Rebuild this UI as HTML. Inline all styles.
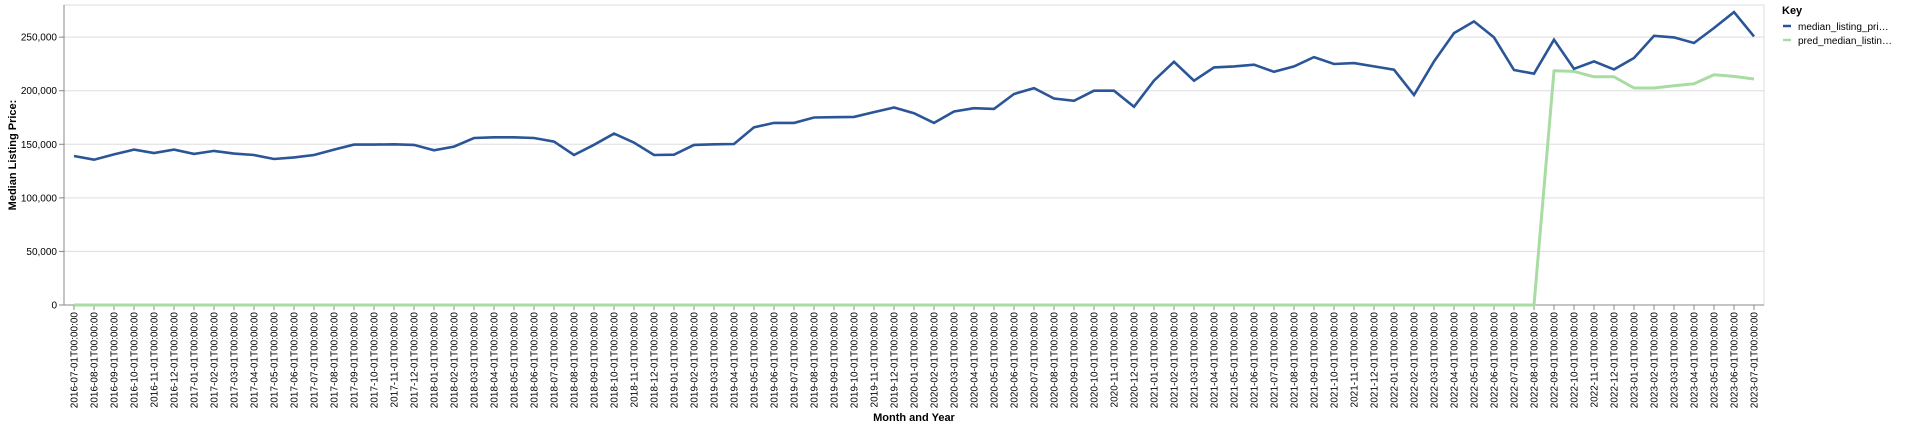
<!DOCTYPE html>
<html><head><meta charset="utf-8">
<style>
html,body{margin:0;padding:0;background:#fff;}
svg{display:block;font-family:"Liberation Sans",Arial,sans-serif;}
</style></head>
<body>
<svg id="chart" width="1920" height="429" viewBox="0 0 1920 429" xmlns="http://www.w3.org/2000/svg">
  <rect x="64" y="5" width="1700" height="300" fill="#fff" stroke="#ddd"/>
  <g id="grid"></g>
  <g id="yaxis"></g>
  <g id="xaxis"></g>
  <g id="series"></g>
  <text transform="translate(16,155) rotate(-90)" text-anchor="middle" font-size="11" font-weight="bold" fill="#000">Median Listing Price:</text>
  <text x="914" y="421" text-anchor="middle" font-size="11" font-weight="bold" fill="#000">Month and Year</text>
  <g>
    <text x="1782" y="14" font-size="11" font-weight="bold" fill="#000">Key</text>
    <g>
      <line x1="1783" y1="26" x2="1791" y2="26" stroke="#2a5597" stroke-width="2.5"/>
      <text x="1798" y="30" font-size="10" fill="#000">median_listing_pri…</text>
    </g>
    <g>
      <line x1="1783" y1="40" x2="1791" y2="40" stroke="#a9dca3" stroke-width="2.5"/>
      <text x="1798" y="44" font-size="10" fill="#000">pred_median_listin…</text>
    </g>
  </g>
</svg>
<script>
const medianValues = [139.1,135.6,140.6,145,141.9,145,141,143.8,141.3,140,136.3,137.8,140,145,149.7,149.7,150,149.4,144.4,147.8,155.9,156.5,156.5,155.9,152.5,140,149.5,160,151.6,140,140.3,149.4,150,150.3,165.9,170,170,175,175.3,175.6,180,184.3,179,170,180.6,183.7,183,196.9,202.4,192.7,190.6,200,200,185,209.4,227,209.3,221.8,222.7,224.3,217.7,222.7,231.4,224.9,225.8,222.7,219.6,196,227.4,253.8,264.7,249.8,219.3,215.9,247.6,220.5,227.4,219.9,230.5,251.3,249.8,244.5,258.5,273.4,250.7];
const predValues = [0,0,0,0,0,0,0,0,0,0,0,0,0,0,0,0,0,0,0,0,0,0,0,0,0,0,0,0,0,0,0,0,0,0,0,0,0,0,0,0,0,0,0,0,0,0,0,0,0,0,0,0,0,0,0,0,0,0,0,0,0,0,0,0,0,0,0,0,0,0,0,0,0,0,218.7,218,213,213,202.5,202.5,204.7,206.5,214.9,213.4,210.9];
const yTicks = [0,50000,100000,150000,200000,250000];
const startYear = 2016, startMonth = 7, monthCount = 85;

const NS = "http://www.w3.org/2000/svg";
const categories = [];
for (let i = 0; i < monthCount; i++) {
  const m = (startMonth - 1 + i);
  const y = startYear + Math.floor(m / 12);
  const mm = String(m % 12 + 1).padStart(2, "0");
  categories.push(y + "-" + mm + "-01T00:00:00");
}
const X0 = 74, XSTEP = 20, Y0 = 305, YMAX = 280000, PH = 300;
function xScale(i){ return X0 + i * XSTEP; }
function yScale(v){ return Y0 - v / YMAX * PH; }
function mk(tag, attrs, parent){
  const el = document.createElementNS(NS, tag);
  for (const k in attrs) el.setAttribute(k, attrs[k]);
  parent.appendChild(el);
  return el;
}
const grid = document.getElementById("grid");
const yaxis = document.getElementById("yaxis");
const xaxis = document.getElementById("xaxis");
const series = document.getElementById("series");

yTicks.forEach(t => {
  const y = yScale(t);
  const g = mk("line", {x1:64, x2:1764, y1:y, y2:y, stroke:"#ddd", "stroke-width":1}, grid);
  
  
  const tk = mk("line", {x1:59, x2:64, y1:y, y2:y, stroke:"#888"}, yaxis);
  
  
  const lb = mk("text", {x:57, y:y+3.5, "text-anchor":"end", "font-size":10, fill:"#000"}, yaxis);
  lb.textContent = t.toLocaleString("en-US");
  
  
});
const ax = mk("line", {x1:64, x2:64, y1:5, y2:305, stroke:"#888"}, yaxis);


const bx = mk("line", {x1:64, x2:1764, y1:305, y2:305, stroke:"#888"}, xaxis);



categories.forEach((c, i) => {
  const x = xScale(i);
  const tk = mk("line", {x1:x, x2:x, y1:305, y2:310, stroke:"#888"}, xaxis);
  
  
  const lb = mk("text", {transform:"translate(" + (x+3.5) + ",312) rotate(-90)", "text-anchor":"end", "font-size":10, fill:"#000"}, xaxis);
  lb.textContent = c;
  
  
});

function pathFor(vals){
  return vals.map((v, i) => (i ? "L" : "M") + xScale(i).toFixed(1) + "," + yScale(v * 1000).toFixed(1)).join("");
}
const pred = mk("path", {d:pathFor(predValues), fill:"none", stroke:"#a9dca3", "stroke-width":3, "stroke-linejoin":"round"}, series);


const med = mk("path", {d:pathFor(medianValues), fill:"none", stroke:"#2a5597", "stroke-width":2.6, "stroke-linejoin":"miter"}, series);


</script>
</body></html>
